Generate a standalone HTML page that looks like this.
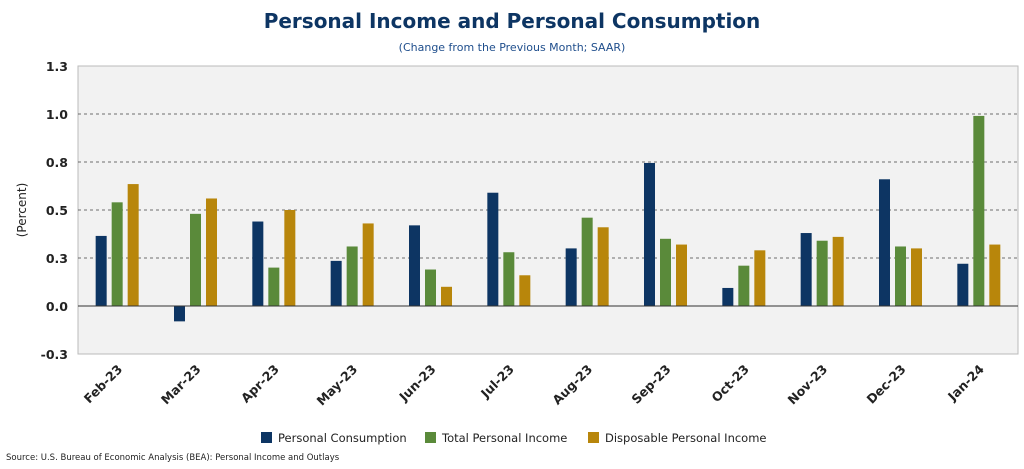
<!DOCTYPE html>
<html><head><meta charset="utf-8"><style>
body{margin:0;background:#fff;font-family:"DejaVu Sans",sans-serif}
</style></head><body>
<svg id="c" width="1024" height="465" xmlns="http://www.w3.org/2000/svg" font-family="DejaVu Sans, sans-serif">
<text x="512" y="28" text-anchor="middle" font-size="20" font-weight="bold" fill="#0d3563">Personal Income and Personal Consumption</text>
<text x="512" y="51" text-anchor="middle" font-size="11" fill="#1f4e8c">(Change from the Previous Month; SAAR)</text>
<rect x="78" y="66" width="940" height="288" fill="#f2f2f2" stroke="#bbb"/>
<text transform="translate(26,210) rotate(-90)" text-anchor="middle" font-size="12" fill="#222">(Percent)</text>
<g id="grid"></g><g id="bars"></g><g id="xl"></g>
<g font-size="11.5" fill="#222">
<rect x="261" y="432" width="11" height="11" fill="#0d3563"/><text x="278" y="442">Personal Consumption</text>
<rect x="425" y="432" width="11" height="11" fill="#5a8a3a"/><text x="442" y="442">Total Personal Income</text>
<rect x="588" y="432" width="11" height="11" fill="#b8860b"/><text x="605" y="442">Disposable Personal Income</text>
</g>
<text x="6" y="460" font-size="8.5" fill="#222">Source: U.S. Bureau of Economic Analysis (BEA): Personal Income and Outlays</text>
</svg>
<script>
const categories=["Feb-23","Mar-23","Apr-23","May-23","Jun-23","Jul-23","Aug-23","Sep-23","Oct-23","Nov-23","Dec-23","Jan-24"];
const consumption=[0.365,-0.08,0.44,0.235,0.42,0.59,0.3,0.745,0.094,0.38,0.66,0.22];
const totalIncome=[0.54,0.48,0.2,0.31,0.19,0.28,0.46,0.35,0.21,0.34,0.31,0.99];
const disposable=[0.635,0.56,0.5,0.43,0.1,0.16,0.41,0.32,0.29,0.36,0.3,0.32];
const ticks=[-0.25,0,0.25,0.5,0.75,1.0,1.25];
const tickLabels=["-0.3","0.0","0.3","0.5","0.8","1.0","1.3"];
const NS="http://www.w3.org/2000/svg";
const y=v=>306-v*192;
const gw=940/categories.length;
const x=i=>78+gw*(i+0.5);
function mk(t,a,p){const e=document.createElementNS(NS,t);for(const k in a)e.setAttribute(k,a[k]);p.appendChild(e);return e;}
const g=document.getElementById('grid');
ticks.forEach((t,i)=>{
 if(t!==0&&t!==1.25&&t!==-0.25){const l=mk('line',{x1:78,x2:1018,y1:y(t),y2:y(t),stroke:'#444','stroke-dasharray':'3,3','stroke-width':0.8},g);
 
 }
 const tx=mk('text',{x:68,y:y(t)+5,'text-anchor':'end','font-size':12.5,'font-weight':'bold',fill:'#222'},g);
 tx.textContent=tickLabels[i];
 
 
});
const b=document.getElementById('bars');
const series=[[consumption,'#0d3563',-16,'consumption'],[totalIncome,'#5a8a3a',0,'total-income'],[disposable,'#b8860b',16,'disposable-income']];
categories.forEach((c,i)=>{
 series.forEach(s=>{const v=s[0][i];
  const r=mk('rect',{x:x(i)+s[2]-5.5,width:11,y:Math.min(y(v),y(0)),height:Math.abs(y(v)-y(0)),fill:s[1]},b);
  
  });
 const t=mk('text',{transform:`translate(${x(i)+6},370) rotate(-45)`,'text-anchor':'end','font-size':12.5,'font-weight':'bold',fill:'#222'},document.getElementById('xl'));
 t.textContent=c;
 
 
});
const z=mk('line',{x1:78,x2:1018,y1:y(0),y2:y(0),stroke:'#333','stroke-width':1},b);


</script>
</body></html>
